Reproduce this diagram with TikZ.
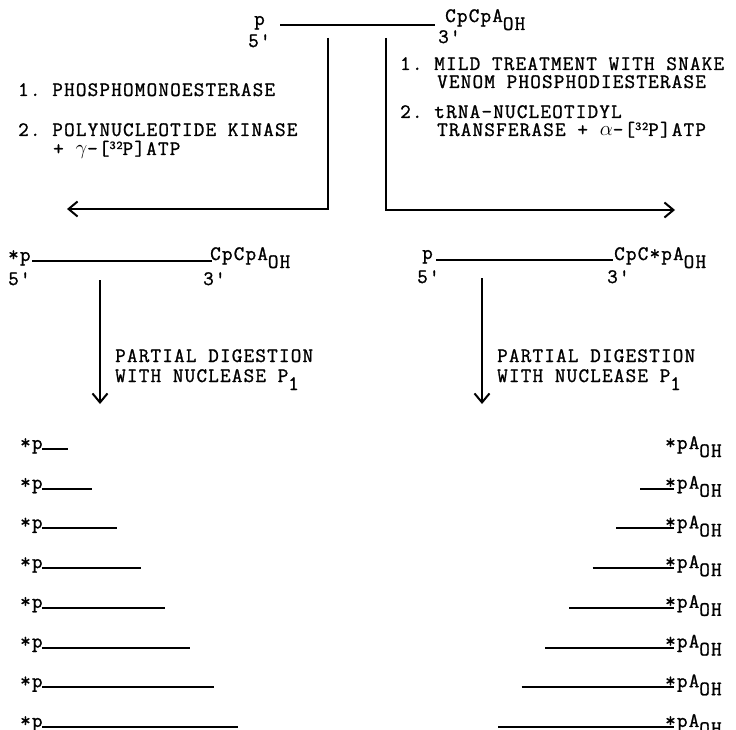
\documentclass[tikz,border=0pt]{standalone}
\usepackage{fontspec}
\setmonofont[LetterSpace=6, FakeBold=1.2]{Latin Modern Mono}
\usetikzlibrary{arrows.meta, positioning, calc}

% lowered OH and small raised 32
\newcommand{\OHsub}{\raisebox{-8pt}{OH}}
\newcommand{\isot}{\raisebox{6pt}{\fontsize{12}{12}\selectfont 32}}
\newcommand{\Psub}{P\raisebox{-8pt}{1}}

\begin{document}
\begin{tikzpicture}[x=1pt, y=-1pt,
  lbl/.style={font=\ttfamily\fontsize{20.5}{20}\selectfont, inner sep=0pt, anchor=base west},
  strand/.style={line width=2pt},
  flow/.style={line width=2pt, -{Straight Barb[length=9pt, width=15pt]}}]

% Page
\useasboundingbox (0,0) rectangle (736,730);

% Starting tRNA
\node[lbl] (top5) at (254,25) {p};
\node[lbl] (top3) at (445,22) {CpCpA\OHsub};
\node[lbl] (t5) at (248,47) {5'};
\node[lbl] (t3) at (438,43) {3'};
\draw[strand] (280,25) -- (435,25);

% Left branch: 5' labelling
\coordinate (splitL) at (328,38);
\coordinate (toL) at (67,209);
\draw[flow] (splitL) |- (toL);
\node[lbl] (l1) at (18,96) {1. PHOSPHOMONOESTERASE};
\node[lbl] (l2) at (18,136) {2. POLYNUCLEOTIDE KINASE};
\node[lbl] (l3) at (53,155) {+ $\gamma$-[\isot P]ATP};

% Right branch: 3' labelling
\coordinate (splitR) at (386,38);
\coordinate (toR) at (675,210);
\draw[flow] (splitR) |- (toR);
\node[lbl] (r1) at (400,70) {1. MILD TREATMENT WITH SNAKE};
\node[lbl] (r2) at (437,88) {VENOM PHOSPHODIESTERASE};
\node[lbl] (r3) at (400,118) {2. tRNA-NUCLEOTIDYL};
\node[lbl] (r4) at (437,136) {TRANSFERASE + $\alpha$-[\isot P]ATP};

% Labelled molecules
\node[lbl] (mL5) at (8,261) {*p};
\node[lbl] (mL3) at (210,260) {CpCpA\OHsub};
\node[lbl] (mL5p) at (8,285) {5'};
\node[lbl] (mL3p) at (203,285) {3'};
\draw[strand] (32,261) -- (212,261);

\node[lbl] (mR5) at (422,259) {p};
\node[lbl] (mR3) at (614,260) {CpC*pA\OHsub};
\node[lbl] (mR5p) at (417,283) {5'};
\node[lbl] (mR3p) at (607,283) {3'};
\draw[strand] (436,260) -- (613,260);

% Nuclease P1 digestion
\coordinate (dL0) at (100,280);
\coordinate (dL1) at (100,404);
\draw[flow] (dL0) -- (dL1);
\node[lbl] (pL1) at (115,362) {PARTIAL DIGESTION};
\node[lbl] (pL2) at (115,382) {WITH NUCLEASE \Psub};

\coordinate (dR0) at (482,278);
\coordinate (dR1) at (482,404);
\draw[flow] (dR0) -- (dR1);
\node[lbl] (pR1) at (497,362) {PARTIAL DIGESTION};
\node[lbl] (pR2) at (497,382) {WITH NUCLEASE \Psub};

% Ladders of fragments
\foreach \i in {0,...,7}{
  \pgfmathsetmacro{\yy}{449+39.7*\i}
  \node[lbl] (fL\i) at (20,\yy) {*p};
  \coordinate (eL\i) at ({68+24.3*\i},\yy);
  \draw[strand] (42,\yy) -- (eL\i);
  \node[lbl] (fR\i) at (665,\yy) {*pA\OHsub};
  \ifnum\i>0
    \coordinate (eR\i) at ({663.7-23.67*\i},\yy);
    \draw[strand] (eR\i) -- ([xshift=9pt]fR\i.base west);
  \fi
}

\end{tikzpicture}
\end{document}
